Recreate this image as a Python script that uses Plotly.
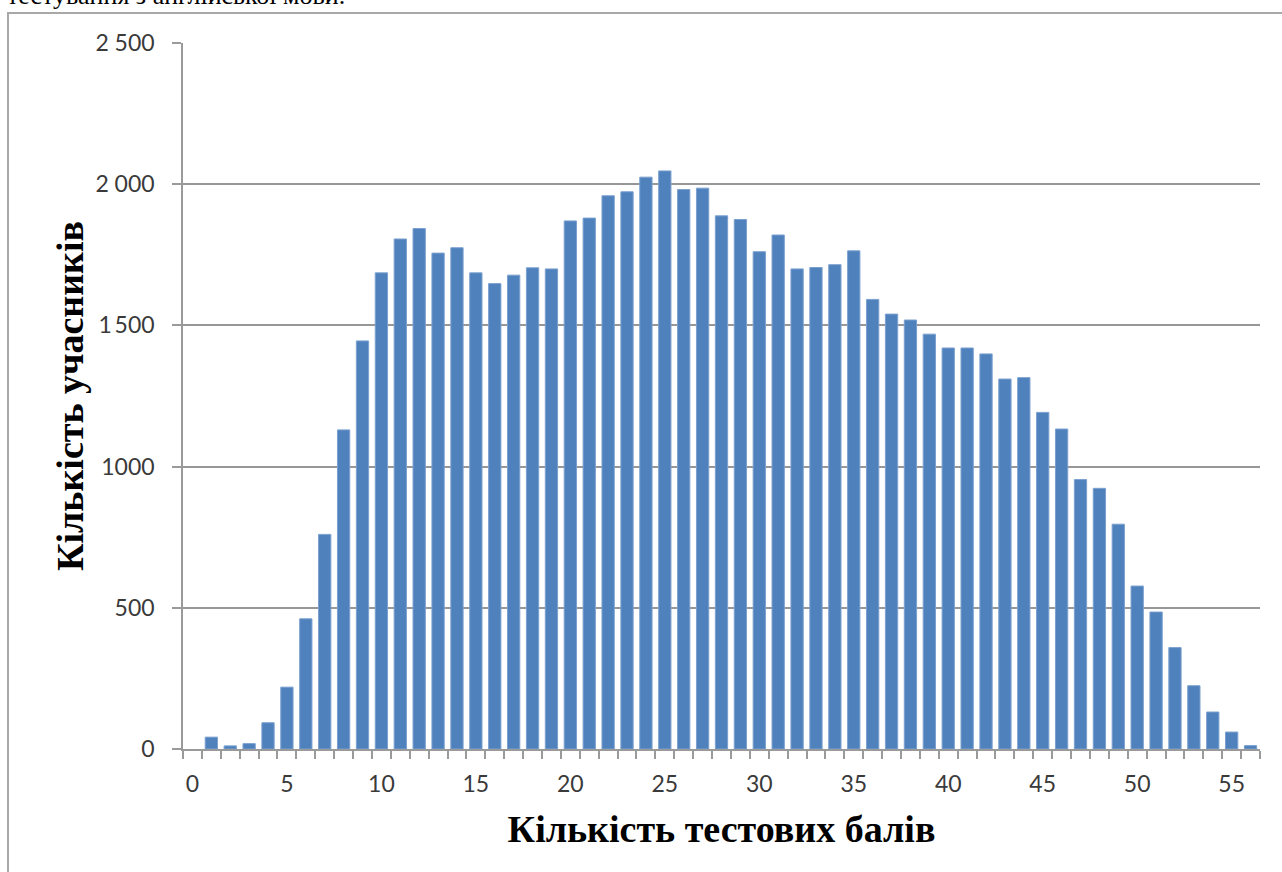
import plotly.graph_objects as go

# Data
scores = list(range(1, 57))
participants = [
    42, 11, 19, 93, 219, 461, 760, 1130, 1445,
    1686, 1806, 1843, 1756, 1775, 1686, 1648, 1678, 1704, 1700,
    1870, 1880, 1959, 1973, 2025, 2047, 1981, 1986, 1888, 1875,
    1761, 1820, 1700, 1705, 1715, 1764, 1592, 1540, 1519, 1469,
    1420, 1420, 1399, 1310, 1315, 1192, 1133, 954, 923, 796,
    577, 485, 359, 224, 131, 60, 12,
]
x_ticks = [0, 5, 10, 15, 20, 25, 30, 35, 40, 45, 50, 55]
y_ticks = [0, 500, 1000, 1500, 2000, 2500]
y_ticktext = ["0", "500", "1000", "1\u2009500", "2 000", "2 500"]

x_title = "Кількість тестових балів"
y_title = "Кількість учасників"
top_text = "тестування з англійської мови."

W, H = 1282, 872
L, R, T, B = 183, 22, 43, 123
pw = W - L - R
ph = H - T - B

def px_x(p):
    return (p - L) / pw

def px_y(p):
    return (H - B - p) / ph

fig = go.Figure()
fig.add_trace(go.Bar(
    x=scores, y=participants,
    marker=dict(color="#4F81BD", line=dict(color="#7BA0CF", width=1)),
    width=0.65,
))

axis_gray = "#9a9a9a"
tick_font = dict(family="Lato, Open Sans, sans-serif", size=23, color="#3a3a3a")
title_font = dict(family="Liberation Serif, Times New Roman, serif", size=38, color="black")

fig.update_layout(
    width=W, height=H,
    margin=dict(l=L, r=R, t=T, b=B, pad=0),
    paper_bgcolor="white", plot_bgcolor="white",
    showlegend=False,
    xaxis=dict(
        range=[-0.5, 56.5],
        tickmode="array", tickvals=x_ticks,
        ticks="", showgrid=False, zeroline=False,
        showline=True, linecolor=axis_gray, linewidth=1.5,
        tickfont=tick_font,
        ticklabelstandoff=14,
        minor=dict(tick0=-0.5, dtick=1, ticks="outside", ticklen=8,
                   tickcolor=axis_gray, tickwidth=1.5, showgrid=False),
        title=dict(text="<b>" + x_title + "</b>", font=title_font, standoff=19),
    ),
    yaxis=dict(
        range=[0, 2500],
        tickmode="array", tickvals=y_ticks, ticktext=y_ticktext,
        ticks="outside", ticklen=9, tickcolor=axis_gray, tickwidth=1.5,
        showgrid=True, gridcolor="#979797", gridwidth=1.5,
        zeroline=False,
        showline=True, linecolor=axis_gray, linewidth=1.5,
        tickfont=tick_font,
        ticklabelstandoff=13,
        title=dict(text="<b>" + y_title + "</b>", font=title_font, standoff=0),
    ),
    shapes=[dict(
        type="rect", xref="paper", yref="paper",
        x0=px_x(8), x1=px_x(1300), y0=px_y(900), y1=px_y(13),
        line=dict(color="#a8a8a8", width=2), fillcolor="rgba(0,0,0,0)",
        layer="below",
    )],
    annotations=[dict(
        text=top_text, xref="paper", yref="paper",
        x=px_x(5), y=px_y(12), xanchor="left", yanchor="bottom",
        showarrow=False,
        font=dict(family="Liberation Serif, Times New Roman, serif", size=26, color="black"),
    )],
)

fig.write_html("out.html", config={"displayModeBar": False},
               post_script="document.body.style.margin='0';")
